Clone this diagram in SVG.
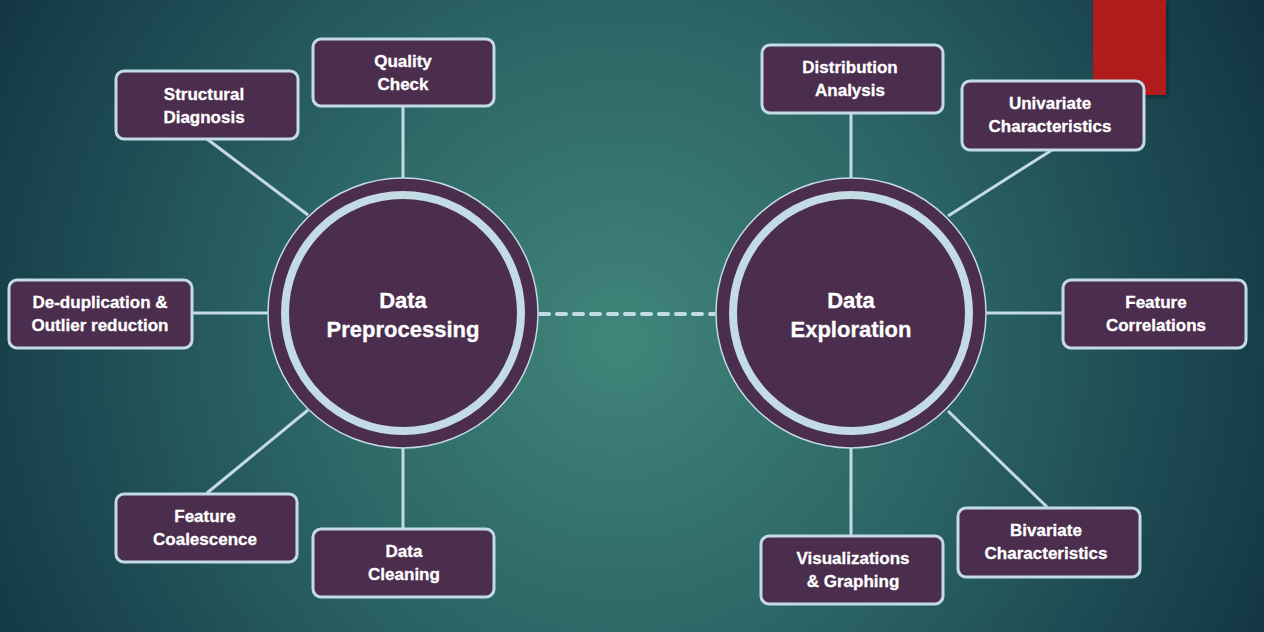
<svg xmlns="http://www.w3.org/2000/svg" width="1264" height="632" viewBox="0 0 1264 632">
<defs>
<radialGradient id="bg" cx="620" cy="340" r="760" gradientUnits="userSpaceOnUse">
<stop offset="0" stop-color="#40857a"/>
<stop offset="0.45" stop-color="#2b6364"/>
<stop offset="1" stop-color="#0f2f40"/>
</radialGradient>
<filter id="sh" x="-20%" y="-20%" width="140%" height="140%">
<feDropShadow dx="2" dy="2" stdDeviation="2" flood-color="#000" flood-opacity="0.35"/>
</filter>
</defs>
<style>
.box{fill:#4b2d4d;stroke:#c3dbe4;stroke-width:3}
.t{font-family:"Liberation Sans",Arial,sans-serif;font-weight:bold;font-size:17px;fill:#ffffff;stroke:#ffffff;stroke-width:0.3;text-anchor:middle}
.ct{font-family:"Liberation Sans",Arial,sans-serif;font-weight:bold;font-size:22px;fill:#ffffff;stroke:#ffffff;stroke-width:0.3;text-anchor:middle}
.ln{stroke:#c3dbe4;stroke-width:3;fill:none}
.outer{fill:#4b2d4d;stroke:#c3dbe4;stroke-width:1.5}
.ring{fill:none;stroke:#c3dbe4;stroke-width:8}
</style>
<rect width="1264" height="632" fill="url(#bg)"/>
<rect x="1093" y="0" width="73" height="95" fill="#b01a1a" filter="url(#sh)"/>
<g id="connectors">
<line class="ln" x1="207" y1="139" x2="308" y2="215"/>
<line class="ln" x1="403" y1="106" x2="403" y2="178"/>
<line class="ln" x1="192" y1="313" x2="268" y2="313"/>
<line class="ln" x1="207" y1="493" x2="308" y2="410"/>
<line class="ln" x1="403" y1="528" x2="403" y2="448"/>
<line x1="540" y1="314" x2="714" y2="314" stroke="#c3dbe4" stroke-width="4" stroke-linecap="round" stroke-dasharray="9 8"/>
<line class="ln" x1="851" y1="113" x2="851" y2="178"/>
<line class="ln" x1="1052" y1="150" x2="948" y2="216"/>
<line class="ln" x1="986" y1="313" x2="1062" y2="313"/>
<line class="ln" x1="1047" y1="507" x2="948" y2="411"/>
<line class="ln" x1="851" y1="535" x2="851" y2="448"/>
</g>
<g id="data-preprocessing">
<circle class="outer" cx="403" cy="313" r="135"/>
<circle class="ring" cx="403" cy="313" r="118"/>
<text class="ct" x="403" y="308">Data</text>
<text class="ct" x="403" y="337">Preprocessing</text>
</g>
<g id="data-exploration">
<circle class="outer" cx="851" cy="313" r="135"/>
<circle class="ring" cx="851" cy="313" r="118"/>
<text class="ct" x="851" y="308">Data</text>
<text class="ct" x="851" y="337">Exploration</text>
</g>
<g id="structural-diagnosis">
<rect class="box" x="116" y="71" width="182" height="68" rx="8"/>
<text class="t" x="204" y="100">Structural</text>
<text class="t" x="204" y="123">Diagnosis</text>
</g>
<g id="quality-check">
<rect class="box" x="313" y="39" width="181" height="67" rx="8"/>
<text class="t" x="403" y="67">Quality</text>
<text class="t" x="403" y="90">Check</text>
</g>
<g id="deduplication">
<rect class="box" x="9" y="280" width="183" height="68" rx="8"/>
<text class="t" x="100" y="308">De-duplication &amp;</text>
<text class="t" x="100" y="331">Outlier reduction</text>
</g>
<g id="feature-coalescence">
<rect class="box" x="116" y="494" width="181" height="68" rx="8"/>
<text class="t" x="205" y="522">Feature</text>
<text class="t" x="205" y="545">Coalescence</text>
</g>
<g id="data-cleaning">
<rect class="box" x="313" y="529" width="181" height="68" rx="8"/>
<text class="t" x="404" y="557">Data</text>
<text class="t" x="404" y="580">Cleaning</text>
</g>
<g id="distribution-analysis">
<rect class="box" x="762" y="45" width="181" height="68" rx="8"/>
<text class="t" x="850" y="73">Distribution</text>
<text class="t" x="850" y="96">Analysis</text>
</g>
<g id="univariate">
<rect class="box" x="962" y="81" width="182" height="69" rx="8"/>
<text class="t" x="1050" y="109">Univariate</text>
<text class="t" x="1050" y="132">Characteristics</text>
</g>
<g id="feature-correlations">
<rect class="box" x="1063" y="280" width="183" height="68" rx="8"/>
<text class="t" x="1156" y="308">Feature</text>
<text class="t" x="1156" y="331">Correlations</text>
</g>
<g id="bivariate">
<rect class="box" x="958" y="508" width="182" height="69" rx="8"/>
<text class="t" x="1046" y="536">Bivariate</text>
<text class="t" x="1046" y="559">Characteristics</text>
</g>
<g id="visualizations">
<rect class="box" x="761" y="536" width="182" height="68" rx="8"/>
<text class="t" x="853" y="564">Visualizations</text>
<text class="t" x="853" y="587">&amp; Graphing</text>
</g>
</svg>
